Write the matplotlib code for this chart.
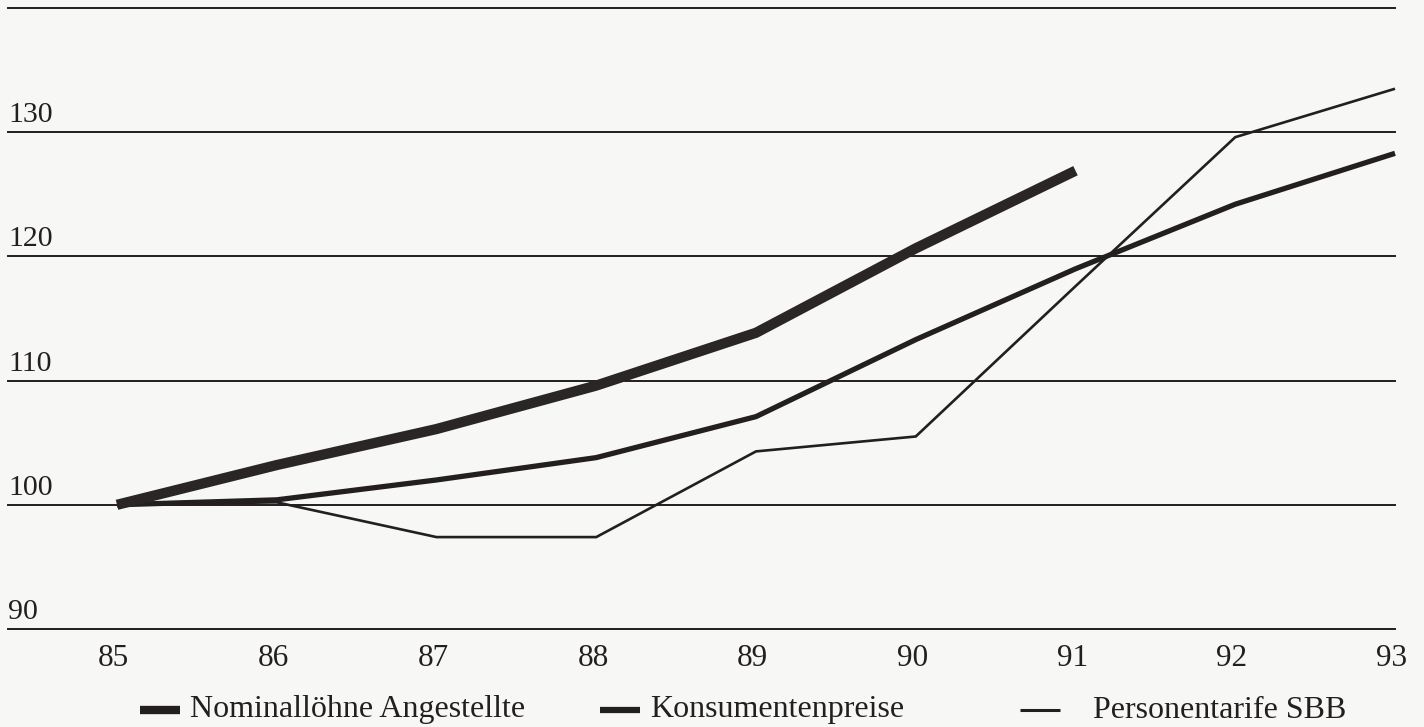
import matplotlib
matplotlib.use("Agg")
import matplotlib.pyplot as plt
from matplotlib.lines import Line2D

# Index 1985 = 100
years = [85, 86, 87, 88, 89, 90, 91, 92, 93]
year_labels = ["85", "86", "87", "88", "89", "90", "91", "92", "93"]

nominalloehne_years = [85, 86, 87, 88, 89, 90, 91]
nominalloehne = [100.0, 103.2, 106.1, 109.6, 113.85, 120.65, 126.9]

konsumentenpreise = [100.0, 100.4, 102.0, 103.8, 107.1, 113.3, 119.0, 124.2, 128.3]

personentarife = [100.0, 100.2, 97.4, 97.4, 104.3, 105.5, 117.6, 129.6, 133.5]

grid_values = [90, 100, 110, 120, 130, 140]
grid_labels = ["90", "100", "110", "120", "130", ""]

legend_labels = ["Nominallöhne Angestellte", "Konsumentenpreise", "Personentarife SBB"]

INK = "#231f20"
BG = "#f7f7f6"
plt.rcParams["font.family"] = ["Liberation Serif", "DejaVu Serif"]

W, H = 1424, 727
fig = plt.figure(figsize=(W / 100, H / 100), dpi=100, facecolor=BG)
ax = fig.add_axes([8 / W, 98 / H, (1395 - 8) / W, 621 / H])
ax.set_facecolor(BG)

unit_x = (1395 - 117) / 8.0  # pixels per year
ax.set_xlim(85 - (117 - 8) / unit_x, 93)
ax.set_ylim(90, 140)
unit_y = 621 / 50.0

for v in grid_values:
    ax.axhline(v, color=INK, linewidth=1.4, clip_on=False, zorder=1)

for v, lab in zip(grid_values, grid_labels):
    if lab:
        ax.text(ax.get_xlim()[0], v + 10 / unit_y, lab, ha="left", va="baseline",
                fontsize=21.5, color=INK)

for x, lab in zip(years, year_labels):
    ax.text(x - 0.02, 90 - 30 / unit_y, lab, ha="center", va="center",
            fontsize=22.5, color=INK)

ax.plot(years, personentarife, color=INK, linewidth=1.9,
        solid_joinstyle="miter", solid_capstyle="butt", clip_on=False, zorder=3)
ax.plot(years, konsumentenpreise, color=INK, linewidth=3.8,
        solid_joinstyle="round", solid_capstyle="butt", clip_on=False, zorder=4)
ax.plot(nominalloehne_years, nominalloehne, color="#2a2626", linewidth=7.4,
        solid_joinstyle="round", solid_capstyle="butt", clip_on=False, zorder=5)

ax.set_xticks([])
ax.set_yticks([])
for s in ax.spines.values():
    s.set_visible(False)

# legend row at the bottom
ly = 1 - 710 / H
samples = [(140, 180, 6.0, 190), (600, 640, 4.5, 650), (1020, 1060, 2.2, 1093)]
for (x0, x1, lw, tx), lab in zip(samples, legend_labels):
    fig.add_artist(Line2D([x0 / W, x1 / W], [ly, ly], color=INK, linewidth=lw,
                          solid_capstyle="butt", transform=fig.transFigure))
    fig.text(tx / W, ly, lab, ha="left", va="center", fontsize=23, color=INK)

fig.savefig("out.png", dpi=100, facecolor=BG)
